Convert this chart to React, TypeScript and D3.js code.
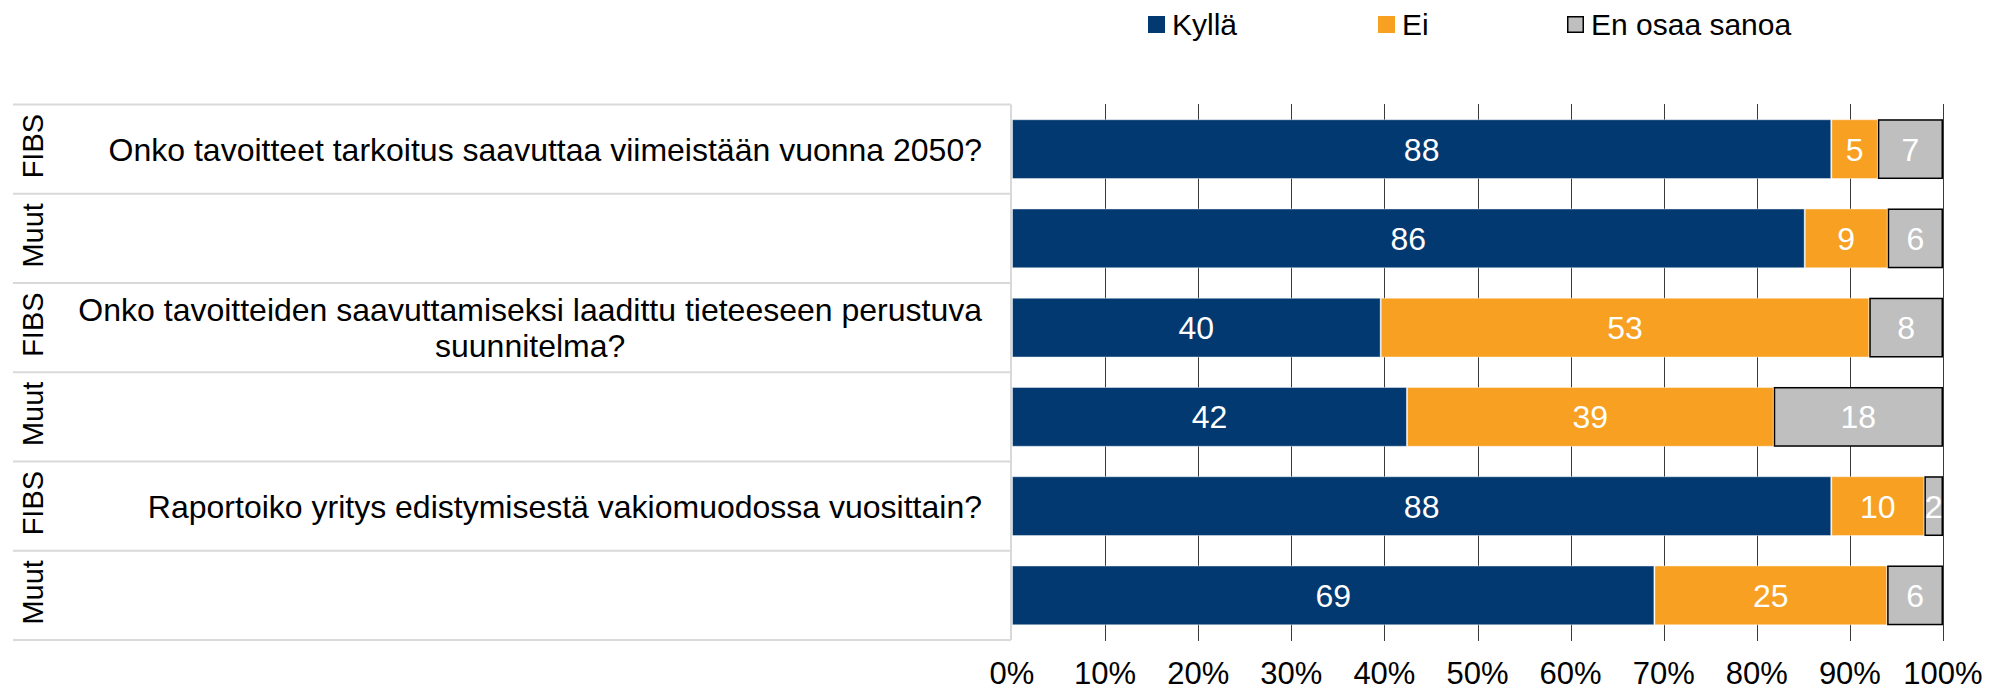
import React, { useEffect, useRef } from "react";
import * as d3 from "d3";

const groups = ["FIBS", "Muut", "FIBS", "Muut", "FIBS", "Muut"];
const questions = [
  ["Onko tavoitteet tarkoitus saavuttaa viimeistään vuonna 2050?"],
  [],
  ["Onko tavoitteiden saavuttamiseksi laadittu tieteeseen perustuva", "suunnitelma?"],
  [],
  ["Raportoiko yritys edistymisestä vakiomuodossa vuosittain?"],
  [],
];
const kylla = [88, 86, 40, 42, 88, 69];
const ei = [5, 9, 53, 39, 10, 25];
const eos = [7, 6, 8, 18, 2, 6];
const seriesNames = ["Kyllä", "Ei", "En osaa sanoa"];
const colors = ["#023970", "#F7A021", "#BFBFBF"];

const FONT = "'Liberation Sans', Arial, sans-serif";

const App = () => {
  const svgRef = useRef(null);
  const width = 1998;
  const height = 695;

  useEffect(() => {
    const svg = d3.select(svgRef.current);
    svg.selectAll("*").remove();

    const rows = groups.map((g, i) => ({
      id: i,
      "Kyllä": kylla[i],
      "Ei": ei[i],
      "En osaa sanoa": eos[i],
    }));

    const x = d3.scaleLinear().domain([0, 1]).range([1012, 1943]);
    const y = d3
      .scaleBand()
      .domain(rows.map((d) => d.id))
      .range([104.5, 640])
      .paddingInner(0.33)
      .paddingOuter(0.165);
    const step = y.step();
    const tableLeft = 13;
    const tableRight = 1011;

    // table lines
    const lineYs = d3.range(groups.length + 1).map((i) => 104.5 + i * step);
    svg
      .append("g")
      .selectAll("line")
      .data(lineYs)
      .enter()
      .append("line")
      .attr("x1", tableLeft)
      .attr("x2", tableRight)
      .attr("y1", (d) => d)
      .attr("y2", (d) => d)
      .attr("stroke", "#d9d9d9")
      .attr("stroke-width", 2);
    svg
      .append("line")
      .attr("x1", tableRight)
      .attr("x2", tableRight)
      .attr("y1", 104.5)
      .attr("y2", 640)
      .attr("stroke", "#d9d9d9")
      .attr("stroke-width", 2);

    // gridlines
    const ticks = x.ticks(10);
    svg
      .append("g")
      .selectAll("line")
      .data(ticks.filter((t) => t > 0))
      .enter()
      .append("line")
      .attr("x1", (d) => Math.round(x(d)) + 0.5)
      .attr("x2", (d) => Math.round(x(d)) + 0.5)
      .attr("y1", 104)
      .attr("y2", 641)
      .attr("stroke", "#3a3a3a")
      .attr("stroke-width", 1);

    // tick labels
    svg
      .append("g")
      .selectAll("text")
      .data(ticks)
      .enter()
      .append("text")
      .attr("x", (d) => x(d))
      .attr("y", 684)
      .attr("text-anchor", "middle")
      .attr("font-family", FONT)
      .attr("font-size", 31)
      .attr("fill", "#000")
      .text(d3.format(".0%"));

    // stacked bars
    const stack = d3.stack().keys(seriesNames).offset(d3.stackOffsetExpand);
    const layers = stack(rows);
    layers.forEach((layer, li) => {
      const g = svg.append("g");
      const inset = li === 2 ? 0.75 : 0.5;
      g.selectAll("rect")
        .data(layer)
        .enter()
        .append("rect")
        .attr("x", (d) => x(d[0]) + inset)
        .attr("y", (d) => y(d.data.id) + inset)
        .attr("width", (d) => x(d[1]) - x(d[0]) - inset * 2)
        .attr("height", y.bandwidth() - inset * 2)
        .attr("fill", colors[li])
        .attr("stroke", li === 2 ? "#000" : "rgba(255,255,255,0.45)")
        .attr("stroke-width", li === 2 ? 1.5 : 1);
      g.selectAll("text")
        .data(layer)
        .enter()
        .append("text")
        .attr("x", (d) => (x(d[0]) + x(d[1])) / 2)
        .attr("y", (d) => y(d.data.id) + y.bandwidth() / 2)
        .attr("dy", "0.36em")
        .attr("text-anchor", "middle")
        .attr("font-family", FONT)
        .attr("font-size", 32)
        .attr("fill", "#fff")
        .text((d) => d.data[seriesNames[li]]);
    });

    // group labels (rotated)
    svg
      .append("g")
      .selectAll("text")
      .data(groups)
      .enter()
      .append("text")
      .attr("transform", (d, i) => `translate(43, ${104.5 + (i + 0.5) * step - 3}) rotate(-90)`)
      .attr("text-anchor", "middle")
      .attr("font-family", FONT)
      .attr("font-size", 29)
      .attr("fill", "#000")
      .text((d) => d);

    // question texts: block right-aligned, lines centred within block
    const textRight = 982;
    const lineGap = 36;
    questions.forEach((lines, i) => {
      if (!lines.length) return;
      const cy = 104.5 + (i + 0.5) * step;
      const g = svg.append("g");
      const texts = lines.map((line, li) =>
        g
          .append("text")
          .attr("y", cy + (li - (lines.length - 1) / 2) * lineGap)
          .attr("dy", "0.36em")
          .attr("text-anchor", "middle")
          .attr("font-family", FONT)
          .attr("font-size", 32)
          .attr("fill", "#000")
          .text(line)
      );
      const maxW = d3.max(texts, (t) => t.node().getComputedTextLength());
      texts.forEach((t) => t.attr("x", textRight - maxW / 2));
    });

    // legend
    const legendX = [1148, 1378, 1567];
    const legend = svg
      .append("g")
      .selectAll("g")
      .data(seriesNames)
      .enter()
      .append("g")
      .attr("transform", (d, i) => `translate(${legendX[i]}, 16)`);
    legend
      .append("rect")
      .attr("x", (d, i) => (i === 2 ? 0.75 : 0))
      .attr("y", (d, i) => (i === 2 ? 0.75 : 0))
      .attr("width", (d, i) => (i === 2 ? 15.5 : 17))
      .attr("height", (d, i) => (i === 2 ? 15.5 : 17))
      .attr("fill", (d, i) => colors[i])
      .attr("stroke", (d, i) => (i === 2 ? "#000" : "none"))
      .attr("stroke-width", 1.5);
    legend
      .append("text")
      .attr("x", 24)
      .attr("y", 19)
      .attr("font-family", FONT)
      .attr("font-size", 30)
      .attr("fill", "#000")
      .text((d) => d);
  }, []);

  return (
    <svg
      ref={svgRef}
      width={width}
      height={height}
      style={{ position: "absolute", left: 0, top: 0, background: "#fff" }}
    />
  );
};

export default App;
